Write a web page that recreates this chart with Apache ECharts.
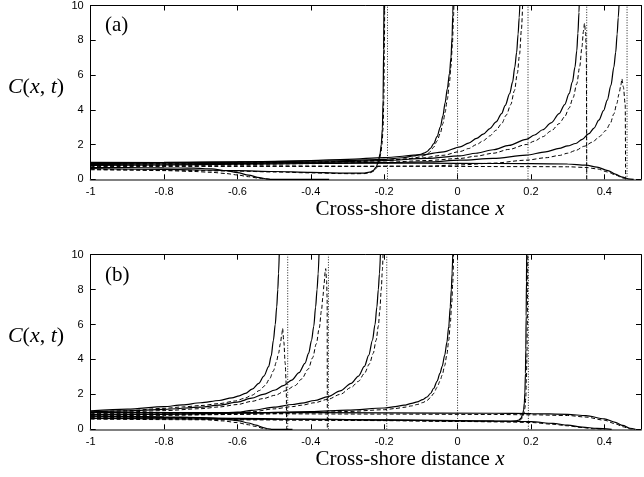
<!DOCTYPE html>
<html><head><meta charset="utf-8">
<script src="https://cdn.jsdelivr.net/npm/echarts@6/dist/echarts.min.js"></script>
<style>html,body{margin:0;padding:0;background:#fff}#c{width:644px;height:477px}</style>
</head><body><div id="c"></div>
<script>
// ---------- Data ----------
const xTickLabels = ['-1', '-0.8', '-0.6', '-0.4', '-0.2', '0', '0.2', '0.4'];
const yTickLabels = ['0', '2', '4', '6', '8', '10'];

// Panel (a): shoreline positions (dotted verticals)
const shoreA = [-0.191, 0, 0.192, 0.352, 0.462];
// Panel (a) profiles: solid = s, dashed = d
const aR1s = [[-1,0.68],[-0.9,0.67],[-0.8,0.66],[-0.72,0.64],[-0.67,0.6],[-0.63,0.5],[-0.6,0.38],[-0.57,0.24],[-0.54,0.1],[-0.52,0.02],[-0.51,0],[-0.35,0]];
const aR1d = [[-1,0.55],[-0.9,0.53],[-0.8,0.5],[-0.72,0.45],[-0.67,0.4],[-0.63,0.33],[-0.6,0.25],[-0.57,0.15],[-0.54,0.06],[-0.52,0.01],[-0.51,0]];
const aD1s = [[-1,0.62],[-0.8,0.57],[-0.6,0.5],[-0.5,0.45],[-0.4,0.4],[-0.32,0.36],[-0.28,0.35],[-0.254,0.36],[-0.24,0.41],[-0.23,0.5],[-0.222,0.7],[-0.216,1.02],[-0.211,1.5],[-0.208,2.0],[-0.205,2.9],[-0.203,4.6],[-0.2015,7.5],[-0.2005,11]];
const aD1d = [[-1,0.58],[-0.8,0.53],[-0.6,0.47],[-0.5,0.42],[-0.4,0.37],[-0.32,0.33],[-0.28,0.32],[-0.252,0.33],[-0.238,0.38],[-0.228,0.47],[-0.22,0.67],[-0.214,1.0],[-0.209,1.5],[-0.206,2.0],[-0.203,2.9],[-0.201,4.6],[-0.1995,7.5],[-0.1985,11]];
const aD2s = [[-1,0.95],[-0.8,0.97],[-0.6,1.0],[-0.4,1.04],[-0.3,1.08],[-0.2,1.15],[-0.15,1.24],[-0.12,1.34],[-0.1,1.44],[-0.09,1.52],[-0.083,1.6],[-0.074,1.78],[-0.065,2.05],[-0.056,2.45],[-0.047,3.0],[-0.04,3.65],[-0.034,4.4],[-0.028,5.2],[-0.022,6.1],[-0.018,7.0],[-0.015,8.2],[-0.013,9.5],[-0.012,10.5]];
const aD2d = [[-1,0.9],[-0.8,0.92],[-0.6,0.95],[-0.4,0.98],[-0.3,1.01],[-0.2,1.07],[-0.15,1.14],[-0.12,1.22],[-0.1,1.3],[-0.09,1.37],[-0.083,1.44],[-0.074,1.6],[-0.065,1.85],[-0.056,2.2],[-0.047,2.65],[-0.04,3.2],[-0.034,3.85],[-0.028,4.6],[-0.022,5.6],[-0.018,6.5],[-0.014,7.8],[-0.011,9.4],[-0.0095,10.5]];
const aD3s = [[-1,0.9],[-0.8,0.95],[-0.6,1.0],[-0.4,1.08],[-0.3,1.15],[-0.2,1.25],[-0.1,1.4],[-0.038,1.58],[0.007,1.87],[0.03,2.08],[0.052,2.35],[0.07,2.6],[0.088,2.92],[0.105,3.3],[0.12,3.78],[0.13,4.25],[0.142,4.93],[0.15,5.6],[0.156,6.45],[0.161,7.3],[0.165,8.36],[0.168,9.3],[0.1705,10.5]];
const aD3d = [[-1,0.85],[-0.8,0.88],[-0.6,0.92],[-0.4,0.98],[-0.3,1.03],[-0.2,1.1],[-0.1,1.22],[-0.04,1.38],[0.007,1.6],[0.03,1.77],[0.052,2.0],[0.07,2.22],[0.088,2.5],[0.105,2.82],[0.12,3.2],[0.133,3.7],[0.145,4.3],[0.155,5.1],[0.163,6.1],[0.169,7.2],[0.174,8.6],[0.178,10.5]];
const aD4s = [[-1,0.85],[-0.8,0.88],[-0.6,0.92],[-0.4,0.98],[-0.2,1.08],[-0.083,1.2],[0.007,1.35],[0.05,1.5],[0.097,1.7],[0.14,1.95],[0.187,2.3],[0.21,2.55],[0.232,2.85],[0.255,3.25],[0.277,3.78],[0.292,4.3],[0.304,4.93],[0.313,5.6],[0.32,6.45],[0.325,7.4],[0.328,8.4],[0.331,9.6],[0.332,10.5]];
const aD4d = [[-1,0.8],[-0.8,0.82],[-0.6,0.85],[-0.4,0.9],[-0.2,0.98],[-0.083,1.08],[0.007,1.2],[0.05,1.33],[0.097,1.5],[0.14,1.72],[0.187,2.0],[0.21,2.2],[0.232,2.45],[0.255,2.78],[0.277,3.2],[0.292,3.6],[0.304,4.1],[0.315,4.7],[0.325,5.5],[0.333,6.5],[0.339,7.6],[0.343,8.5],[0.346,8.97],[0.349,8.4],[0.351,7.2],[0.352,0]];
const aD5s = [[-1,0.8],[-0.8,0.83],[-0.6,0.87],[-0.4,0.91],[-0.2,0.96],[-0.083,1.0],[0.007,1.1],[0.097,1.2],[0.187,1.39],[0.24,1.58],[0.277,1.78],[0.3,1.92],[0.322,2.06],[0.34,2.3],[0.358,2.63],[0.372,2.95],[0.385,3.4],[0.398,3.95],[0.408,4.55],[0.418,5.4],[0.426,6.45],[0.431,7.3],[0.435,8.36],[0.438,9.3],[0.441,10.5]];
const aD5d = [[-1,0.74],[-0.6,0.74],[-0.3,0.74],[-0.083,0.76],[0.007,0.83],[0.097,0.93],[0.187,1.1],[0.24,1.24],[0.277,1.37],[0.3,1.5],[0.322,1.66],[0.345,1.9],[0.368,2.14],[0.386,2.45],[0.404,2.8],[0.416,3.2],[0.426,3.76],[0.434,4.35],[0.44,4.9],[0.445,5.4],[0.448,5.78],[0.452,5.3],[0.457,4.3],[0.458,0]];
const aR2s = [[-1,0.97],[-0.6,0.95],[-0.2,0.93],[0,0.92],[0.2,0.9],[0.3,0.88],[0.35,0.82],[0.38,0.7],[0.41,0.5],[0.43,0.3],[0.45,0.12],[0.465,0.03],[0.48,0]];
const aR2d = [[-1,0.8],[-0.6,0.78],[-0.2,0.75],[0.2,0.73],[0.3,0.72],[0.35,0.68],[0.38,0.6],[0.41,0.42],[0.43,0.25],[0.45,0.08],[0.46,0]];

// Panel (b)
const shoreB = [-0.463, -0.352, -0.193, 0, 0.193];
const bE1s = [[-1,1.05],[-0.9,1.15],[-0.8,1.3],[-0.75,1.4],[-0.7,1.52],[-0.65,1.65],[-0.615,1.8],[-0.595,1.92],[-0.578,2.06],[-0.56,2.3],[-0.542,2.63],[-0.528,3.05],[-0.515,3.59],[-0.508,4.2],[-0.502,5.1],[-0.497,6.0],[-0.493,7.0],[-0.49,8.0],[-0.488,8.9],[-0.4855,10.5]];
const bE1d = [[-1,0.98],[-0.9,1.07],[-0.8,1.2],[-0.75,1.28],[-0.7,1.36],[-0.65,1.47],[-0.606,1.62],[-0.58,1.78],[-0.561,1.95],[-0.54,2.22],[-0.525,2.5],[-0.512,2.9],[-0.502,3.35],[-0.494,3.85],[-0.488,4.35],[-0.483,4.9],[-0.479,5.45],[-0.477,5.78],[-0.4735,5.0],[-0.47,3.8],[-0.467,2.6],[-0.466,0]];
const bE2s = [[-1,1.0],[-0.9,1.05],[-0.8,1.14],[-0.7,1.27],[-0.65,1.39],[-0.6,1.56],[-0.561,1.78],[-0.53,2.0],[-0.497,2.25],[-0.475,2.5],[-0.452,2.82],[-0.432,3.25],[-0.416,3.78],[-0.406,4.35],[-0.398,5.1],[-0.392,5.9],[-0.387,7.0],[-0.383,8.0],[-0.38,8.9],[-0.377,10.5]];
const bE2d = [[-1,0.95],[-0.9,1.0],[-0.8,1.07],[-0.7,1.18],[-0.65,1.28],[-0.6,1.42],[-0.561,1.6],[-0.53,1.76],[-0.497,1.95],[-0.47,2.2],[-0.443,2.5],[-0.425,2.88],[-0.407,3.45],[-0.395,4.1],[-0.385,4.9],[-0.377,5.8],[-0.371,6.8],[-0.367,7.6],[-0.364,8.3],[-0.361,9.0],[-0.3595,9.2],[-0.357,8.5],[-0.3555,7.5],[-0.355,0]];
const bE3s = [[-1,0.85],[-0.8,0.88],[-0.7,0.9],[-0.65,0.92],[-0.6,0.98],[-0.561,1.08],[-0.5,1.27],[-0.45,1.42],[-0.425,1.5],[-0.39,1.65],[-0.353,1.87],[-0.32,2.2],[-0.29,2.63],[-0.27,3.05],[-0.254,3.6],[-0.242,4.25],[-0.232,5.1],[-0.225,6.0],[-0.22,7.0],[-0.216,8.0],[-0.213,8.9],[-0.2095,10.5]];
const bE3d = [[-1,0.8],[-0.8,0.83],[-0.7,0.85],[-0.65,0.87],[-0.6,0.92],[-0.561,1.0],[-0.5,1.17],[-0.45,1.3],[-0.425,1.38],[-0.39,1.52],[-0.353,1.72],[-0.32,2.0],[-0.29,2.4],[-0.27,2.75],[-0.254,3.2],[-0.24,3.75],[-0.23,4.35],[-0.222,5.1],[-0.216,5.9],[-0.212,6.8],[-0.208,8.0],[-0.205,9.1],[-0.2025,10.5]];
const bE4s = [[-1,0.82],[-0.8,0.86],[-0.6,0.92],[-0.4,1.02],[-0.3,1.1],[-0.2,1.22],[-0.17,1.3],[-0.146,1.38],[-0.125,1.48],[-0.11,1.57],[-0.095,1.7],[-0.083,1.85],[-0.074,2.05],[-0.065,2.35],[-0.056,2.75],[-0.048,3.2],[-0.042,3.6],[-0.035,4.25],[-0.029,5.0],[-0.024,5.9],[-0.02,7.0],[-0.017,8.0],[-0.015,8.9],[-0.0125,10.5]];
const bE4d = [[-1,0.77],[-0.8,0.8],[-0.6,0.85],[-0.4,0.95],[-0.3,1.02],[-0.2,1.12],[-0.17,1.19],[-0.146,1.26],[-0.125,1.34],[-0.11,1.42],[-0.095,1.53],[-0.083,1.65],[-0.074,1.82],[-0.065,2.05],[-0.056,2.4],[-0.048,2.75],[-0.042,3.1],[-0.035,3.65],[-0.029,4.3],[-0.024,5.1],[-0.02,6.0],[-0.016,7.2],[-0.013,8.4],[-0.0105,10.5]];
const bE5s = [[-1,0.72],[-0.8,0.68],[-0.6,0.63],[-0.4,0.58],[-0.2,0.53],[0,0.48],[0.1,0.46],[0.14,0.46],[0.158,0.48],[0.167,0.53],[0.173,0.64],[0.177,0.82],[0.18,1.1],[0.182,1.5],[0.1835,2.1],[0.185,3.2],[0.186,4.6],[0.187,6.5],[0.1878,8.5],[0.1885,10.5]];
const bE5d = [[-1,0.67],[-0.8,0.63],[-0.6,0.58],[-0.4,0.54],[-0.2,0.5],[0,0.45],[0.1,0.43],[0.145,0.43],[0.162,0.46],[0.171,0.53],[0.177,0.66],[0.181,0.88],[0.184,1.25],[0.186,1.8],[0.1875,2.7],[0.189,4.0],[0.19,5.8],[0.1908,8],[0.1915,10.5]];
const bF1s = [[-1,0.75],[-0.9,0.74],[-0.8,0.72],[-0.7,0.67],[-0.64,0.6],[-0.6,0.5],[-0.57,0.36],[-0.55,0.24],[-0.53,0.1],[-0.515,0.02],[-0.505,0],[-0.45,0]];
const bF1d = [[-1,0.7],[-0.9,0.68],[-0.8,0.65],[-0.7,0.58],[-0.64,0.48],[-0.6,0.38],[-0.57,0.26],[-0.55,0.16],[-0.53,0.05],[-0.52,0]];
const bF2s = [[-1,0.62],[-0.6,0.58],[-0.2,0.54],[0,0.5],[0.1,0.48],[0.2,0.44],[0.26,0.34],[0.3,0.24],[0.34,0.13],[0.38,0.05],[0.42,0]];
const bF2d = [[-1,0.58],[-0.6,0.54],[-0.2,0.5],[0,0.46],[0.1,0.44],[0.2,0.39],[0.26,0.29],[0.3,0.2],[0.34,0.1],[0.37,0.03],[0.4,0]];
const bF3s = [[-1,0.97],[-0.6,0.96],[-0.2,0.94],[0.1,0.92],[0.2,0.9],[0.3,0.86],[0.35,0.78],[0.4,0.6],[0.43,0.4],[0.45,0.22],[0.47,0.06],[0.485,0]];
const bF3d = [[-1,0.9],[-0.6,0.89],[-0.2,0.87],[0.1,0.85],[0.2,0.83],[0.3,0.79],[0.35,0.7],[0.4,0.52],[0.43,0.32],[0.45,0.15],[0.47,0.02],[0.478,0]];

const solidA = [aR1s, aD1s, aD2s, aD3s, aD4s, aD5s, aR2s];
const dashedA = [aR1d, aD1d, aD2d, aD3d, aD4d, aD5d, aR2d];
const solidB = [bF1s, bE1s, bE2s, bE3s, bE4s, bE5s, bF2s, bF3s];
const dashedB = [bF1d, bE1d, bE2d, bE3d, bE4d, bE5d, bF2d, bF3d];

// ---------- Chart ----------
const chart = echarts.init(document.getElementById('c'), null, {renderer: 'canvas'});
const SANS = 'Liberation Sans, Arial, sans-serif';
const SERIF = 'Liberation Serif, Times New Roman, serif';
const grids = [
  {left: 90.7, top: 4.7, width: 555, height: 174.6},
  {left: 90.7, top: 254.7, width: 555, height: 174.6}
];
function xFmt(v) {
  if (v > 0.45) return '';
  const s = String(+v.toFixed(1));
  return xTickLabels.indexOf(s) >= 0 ? s : '';
}
function yFmt(v) {
  const s = String(Math.round(v));
  return yTickLabels.indexOf(s) >= 0 ? s : '';
}
const xAxis = [], yAxis = [];
[0, 1].forEach(g => {
  xAxis.push({type: 'value', gridIndex: g, min: -1, max: 0.5, interval: 0.2, position: 'bottom',
    axisLine: {show: true, onZero: false, lineStyle: {color: '#808080', width: 2}},
    axisTick: {show: true, inside: true, length: 5, lineStyle: {color: '#000', width: 1}},
    axisLabel: {show: true, margin: 7, fontSize: 11, fontFamily: SANS, color: '#000', formatter: xFmt},
    splitLine: {show: false}});
  xAxis.push({type: 'value', gridIndex: g, min: -1, max: 0.5, interval: 0.2, position: 'top',
    axisLine: {show: true, onZero: false, lineStyle: {color: '#000', width: 1}},
    axisTick: {show: true, inside: true, length: 5, lineStyle: {color: '#000', width: 1}},
    axisLabel: {show: false}, splitLine: {show: false}});
  yAxis.push({type: 'value', gridIndex: g, min: 0, max: 10, interval: 2, position: 'left',
    axisLine: {show: true, onZero: false, lineStyle: {color: '#000', width: 1}},
    axisTick: {show: true, inside: true, length: 5, lineStyle: {color: '#000', width: 1}},
    axisLabel: {show: true, margin: 7, fontSize: 11, fontFamily: SANS, color: '#000', formatter: yFmt},
    splitLine: {show: false}});
  yAxis.push({type: 'value', gridIndex: g, min: 0, max: 10, interval: 2, position: 'right',
    axisLine: {show: true, onZero: false, lineStyle: {color: '#000', width: 1}},
    axisTick: {show: true, inside: true, length: 5, lineStyle: {color: '#000', width: 1}},
    axisLabel: {show: false}, splitLine: {show: false}});
});

const series = [];
function addLine(data, g, kind) {
  const ls = kind === 'solid' ? {color: '#000', width: 1.2, type: 'solid'}
    : kind === 'dashed' ? {color: '#000', width: 1, type: [4, 2.5]}
    : {color: '#222', width: 1, type: [1, 1.6]};
  series.push({type: 'line', xAxisIndex: g * 2, yAxisIndex: g * 2, data: data,
    showSymbol: false, symbol: 'none', smooth: kind === 'dotted' ? false : 0.3,
    smoothMonotone: 'x', clip: true, lineStyle: ls, silent: true, animation: false, z: kind === 'dotted' ? 1 : 2});
}
shoreA.forEach(s => addLine([[s, 0], [s, 10]], 0, 'dotted'));
shoreB.forEach(s => addLine([[s, 0], [s, 10]], 1, 'dotted'));
dashedA.forEach(d => addLine(d, 0, 'dashed'));
solidA.forEach(d => addLine(d, 0, 'solid'));
dashedB.forEach(d => addLine(d, 1, 'dashed'));
solidB.forEach(d => addLine(d, 1, 'solid'));

function ylabel(y) {
  return {type: 'text', x: 36, y: y, style: {
    text: '{i|C}{n|(}{i|x}{n|, }{i|t}{n|)}', align: 'center', verticalAlign: 'middle',
    rich: {i: {fontFamily: SERIF, fontStyle: 'italic', fontSize: 22, fill: '#000'},
           n: {fontFamily: SERIF, fontSize: 22, fill: '#000'}}}};
}
function xlabel(y) {
  return {type: 'text', x: 410, y: y, style: {
    text: '{n|Cross-shore distance }{i|x}', align: 'center', verticalAlign: 'middle',
    rich: {i: {fontFamily: SERIF, fontStyle: 'italic', fontSize: 21, fill: '#000'},
           n: {fontFamily: SERIF, fontSize: 21, fill: '#000'}}}};
}
function plabel(t, y) {
  return {type: 'text', x: 105, y: y, style: {text: t, font: '21px ' + SERIF, fill: '#000', align: 'left', verticalAlign: 'middle'}};
}

chart.setOption({
  animation: false,
  backgroundColor: '#fff',
  grid: grids,
  xAxis: xAxis,
  yAxis: yAxis,
  series: series,
  graphic: [ylabel(87), ylabel(336), xlabel(209), xlabel(459), plabel('(a)', 25), plabel('(b)', 275)]
});
</script></body></html>
